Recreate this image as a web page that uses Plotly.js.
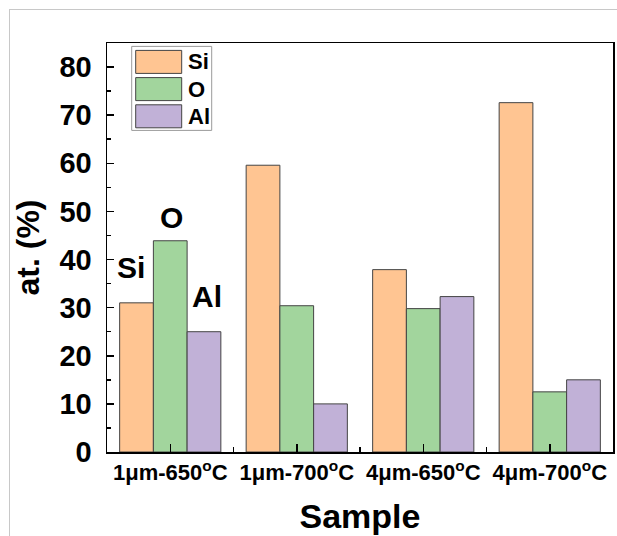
<!DOCTYPE html>
<html>
<head>
<meta charset="utf-8">
<script src="https://cdn.plot.ly/plotly-3.0.1.min.js"></script>
<style>
html,body{margin:0;padding:0;background:#fff;}
#wrap{position:relative;width:617px;height:536px;overflow:hidden;}
#frame{position:absolute;left:9px;top:9px;right:-5px;bottom:-5px;border-left:1.5px solid #c8c8c8;border-top:1.5px solid #c8c8c8;pointer-events:none;z-index:5;}
#chart{position:absolute;left:0;top:0;width:617px;height:536px;}
</style>
</head>
<body>
<div id="wrap"><div id="chart"></div><div id="frame"></div></div>
<script>
const categories = ["1\u03bcm-650<sup>o</sup>C", "1\u03bcm-700<sup>o</sup>C", "4\u03bcm-650<sup>o</sup>C", "4\u03bcm-700<sup>o</sup>C"];
const seriesNames = ["Si", "O", "Al"];
const siValues = [31.0, 59.6, 37.9, 72.6];
const oValues  = [43.9, 30.4, 29.8, 12.5];
const alValues = [25.0, 10.0, 32.3, 15.0];
const colors = ["#FFC592", "#A2D59D", "#C1B1D7"];
const yTicks = [0, 10, 20, 30, 40, 50, 60, 70, 80];

const FONT = "Liberation Sans, Arial, sans-serif";
const xIdx = categories.map((_, i) => i);
const allValues = [siValues, oValues, alValues];

const traces = allValues.map((vals, k) => ({
  type: "bar",
  name: seriesNames[k],
  x: xIdx,
  y: vals,
  marker: {color: colors[k], line: {color: "#444", width: 1}},
  hoverinfo: "none"
}));

const groupW = 0.8, barW = groupW / 3;
const labelOffsets = [7.3, 4.8, 7.4];
const labelDx = [-0.04, 0.01, 0.02];
const annotations = seriesNames.map((n, k) => ({
  x: xIdx[0] + (k - 1) * barW + labelDx[k],
  y: allValues[k][0] + labelOffsets[k],
  xref: "x", yref: "y",
  text: "<b>" + n + "</b>",
  showarrow: false,
  font: {family: FONT, size: 30, color: "#000"},
  xanchor: "center", yanchor: "middle"
}));

const shapes = [];
const pw = 506, ph = 409;
const px = v => (v - 107) / pw;
const py = v => (452.3 - v) / ph;
shapes.push({type: "rect", xref: "paper", yref: "paper",
  x0: px(131.7), x1: px(211.7), y0: py(130.7), y1: py(46.7),
  line: {color: "#9a9a9a", width: 1}, fillcolor: "#fff", layer: "above"});
seriesNames.forEach((n, k) => {
  const top = 50.7 + k * 27.2;
  shapes.push({type: "rect", xref: "paper", yref: "paper",
    x0: px(135.7), x1: px(181.7), y0: py(top + 23), y1: py(top),
    line: {color: "#444", width: 1}, fillcolor: colors[k], layer: "above"});
  annotations.push({xref: "paper", yref: "paper", x: px(186), y: py(top + 11.5),
    text: "<b>" + n + "</b>", showarrow: false, xanchor: "left", yanchor: "middle",
    font: {family: FONT, size: 22, color: "#000"}});
});

const layout = {
  width: 617, height: 536,
  margin: {l: 107, r: 4, t: 43, b: 84},
  paper_bgcolor: "#fff", plot_bgcolor: "#fff",
  showlegend: false,
  barmode: "group", bargap: 0.2, bargroupgap: 0,
  font: {family: FONT, color: "#000"},
  xaxis: {
    type: "linear", range: [-0.5, 3.5],
    tickvals: xIdx, ticktext: categories.map(c => "<b>" + c + "</b>"),
    ticks: "inside", ticklen: 8, tickwidth: 1.5, tickcolor: "#000",
    minor: {tickvals: [0.5, 1.5, 2.5], ticks: "inside", ticklen: 5, tickwidth: 1.5, tickcolor: "#000"},
    showline: true, linecolor: "#000", linewidth: 1.5, mirror: true,
    showgrid: false, zeroline: false,
    tickfont: {family: FONT, size: 22, color: "#000"},
    title: {text: "<b>Sample</b>", font: {family: FONT, size: 34, color: "#000"}, standoff: 20}
  },
  yaxis: {
    range: [0, 85],
    tickvals: yTicks, ticktext: yTicks.map(v => "<b>" + v + "</b>"),
    ticks: "inside", ticklen: 7, tickwidth: 1.5, tickcolor: "#000",
    minor: {dtick: 5, tick0: 5, ticks: "inside", ticklen: 4, tickwidth: 1.5, tickcolor: "#000"},
    showline: true, linecolor: "#000", linewidth: 1.5, mirror: true,
    showgrid: false, zeroline: false,
    tickfont: {family: FONT, size: 29, color: "#000"},
    ticklabelstandoff: 8,
    title: {text: "<b>at. (%)</b>", font: {family: FONT, size: 32, color: "#000"}, standoff: 10}
  },
  annotations: annotations,
  shapes: shapes
};

Plotly.newPlot("chart", traces, layout, {staticPlot: true, displayModeBar: false});
</script>
</body>
</html>
